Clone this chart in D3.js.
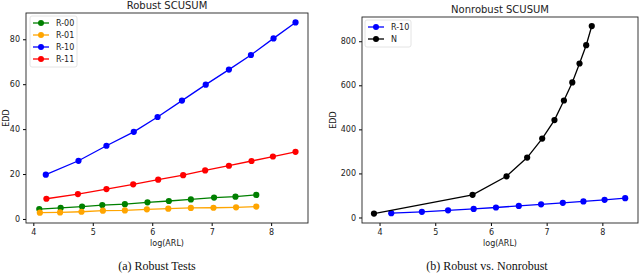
<!DOCTYPE html>
<html>
<head>
<meta charset="utf-8">
<script src="https://cdn.jsdelivr.net/npm/d3@7"></script>
<style>
  body { margin: 0; background: #fff; }
  svg { display: block; }
  .tick text { font-family: "DejaVu Sans", sans-serif; font-size: 8px; fill: #222; }
</style>
</head>
<body>
<script>
// log(ARL) values and EDD values
const xR00 = [4.10, 4.46, 4.82, 5.16, 5.54, 5.92, 6.28, 6.65, 7.04, 7.40, 7.75];
const yR00 = [4.4, 4.9, 5.5, 6.2, 6.6, 7.4, 8.0, 8.7, 9.5, 9.9, 10.7];
const xR01 = [4.11, 4.45, 4.81, 5.17, 5.54, 5.91, 6.27, 6.65, 7.03, 7.41, 7.75];
const yR01 = [2.8, 2.9, 3.2, 3.7, 3.8, 4.3, 4.6, 4.9, 5.0, 5.2, 5.5];
const xR10 = [4.21, 4.76, 5.23, 5.69, 6.09, 6.50, 6.90, 7.29, 7.66, 8.04, 8.41];
const yR10 = [19.7, 25.9, 32.6, 38.8, 45.4, 52.7, 59.8, 66.5, 73.0, 80.4, 87.5];
const xR11 = [4.22, 4.75, 5.23, 5.68, 6.10, 6.52, 6.89, 7.29, 7.67, 8.03, 8.41];
const yR11 = [9.0, 11.1, 13.3, 15.4, 17.5, 19.5, 21.6, 23.7, 25.8, 27.8, 29.9];
const xN = [3.90, 5.67, 6.28, 6.65, 6.92, 7.14, 7.31, 7.46, 7.59, 7.71, 7.81];
const yN = [18, 103, 187, 272, 358, 442, 531, 613, 699, 782, 869];

const xTicks = [4, 5, 6, 7, 8];
const yTicksA = [0, 20, 40, 60, 80];
const yTicksB = [0, 200, 400, 600, 800];

const zip = (xs, ys) => xs.map((x, i) => ({ x: x, y: ys[i] }));

const svg = d3.select("body").append("svg")
    .attr("width", 640)
    .attr("height", 274);

function drawPanel(cfg) {
    const x = d3.scaleLinear().domain(cfg.xDomain).range([cfg.left, cfg.right]);
    const y = d3.scaleLinear().domain(cfg.yDomain).range([cfg.bottom, cfg.top]);
    const g = svg.append("g");

    g.append("g")
        .attr("transform", `translate(0,${cfg.bottom})`)
        .call(d3.axisBottom(x).tickValues(xTicks).tickSize(3).tickPadding(3).tickFormat(d3.format("d")))
        .call(a => a.select(".domain").remove());
    g.append("g")
        .attr("transform", `translate(${cfg.left},0)`)
        .call(d3.axisLeft(y).tickValues(cfg.yTicks).tickSize(3).tickPadding(3).tickFormat(d3.format("d")))
        .call(a => a.select(".domain").remove());

    g.append("rect")
        .attr("x", cfg.left).attr("y", cfg.top)
        .attr("width", cfg.right - cfg.left).attr("height", cfg.bottom - cfg.top)
        .attr("fill", "none").attr("stroke", "#222").attr("stroke-width", 0.9);

    const line = d3.line().x(d => x(d.x)).y(d => y(d.y));
    cfg.series.forEach(s => {
        const pts = zip(s.xs, s.ys);
        g.append("path").datum(pts)
            .attr("d", line).attr("fill", "none")
            .attr("stroke", s.color).attr("stroke-width", 1.3);
        g.selectAll(null).data(pts).enter().append("circle")
            .attr("cx", d => x(d.x)).attr("cy", d => y(d.y))
            .attr("r", 3.1).attr("fill", s.color);
    });

    // legend
    const lg = g.append("g");
    lg.append("rect")
        .attr("x", cfg.legend.x).attr("y", cfg.legend.y)
        .attr("width", cfg.legend.w).attr("height", 12 * cfg.series.length + 3)
        .attr("rx", 2).attr("fill", "#fff").attr("stroke", "#ddd").attr("stroke-width", 0.8);
    cfg.series.forEach((s, i) => {
        const cy = cfg.legend.y + 7 + 12 * i;
        const lx = cfg.legend.x + 3;
        lg.append("line").attr("x1", lx).attr("x2", lx + 16).attr("y1", cy).attr("y2", cy)
            .attr("stroke", s.color).attr("stroke-width", 1.3);
        lg.append("circle").attr("cx", lx + 8).attr("cy", cy).attr("r", 3).attr("fill", s.color);
        lg.append("text").attr("x", lx + 23).attr("y", cy + 3)
            .attr("font-family", "DejaVu Sans, sans-serif").attr("font-size", 8).attr("fill", "#222")
            .text(s.name);
    });

    g.append("text")
        .attr("x", (cfg.left + cfg.right) / 2).attr("y", cfg.top - 4)
        .attr("text-anchor", "middle")
        .attr("font-family", "DejaVu Sans, sans-serif").attr("font-size", 10).attr("fill", "#222")
        .text(cfg.title);
    g.append("text")
        .attr("x", (cfg.left + cfg.right) / 2).attr("y", 246)
        .attr("text-anchor", "middle")
        .attr("font-family", "DejaVu Sans, sans-serif").attr("font-size", 8).attr("fill", "#222")
        .text("log(ARL)");
    g.append("text")
        .attr("transform", `translate(${cfg.yLabelX},${(cfg.top + cfg.bottom) / 2}) rotate(-90)`)
        .attr("text-anchor", "middle")
        .attr("font-family", "DejaVu Sans, sans-serif").attr("font-size", 8).attr("fill", "#222")
        .text("EDD");
    g.append("text")
        .attr("x", cfg.captionX).attr("y", 270)
        .attr("text-anchor", "middle")
        .attr("font-family", "Liberation Serif, Times New Roman, serif").attr("font-size", 12).attr("fill", "#111")
        .text(cfg.caption);
}

drawPanel({
    left: 26, right: 308, top: 13, bottom: 223,
    xDomain: [3.877, 8.62], yDomain: [-1.8, 91.7],
    yTicks: yTicksA,
    title: "Robust SCUSUM",
    caption: "(a) Robust Tests", captionX: 157,
    yLabelX: 9,
    legend: { x: 30, y: 16, w: 47 },
    series: [
        { name: "R-00", color: "green", xs: xR00, ys: yR00 },
        { name: "R-01", color: "orange", xs: xR01, ys: yR01 },
        { name: "R-10", color: "blue", xs: xR10, ys: yR10 },
        { name: "R-11", color: "red", xs: xR11, ys: yR11 }
    ]
});

drawPanel({
    left: 362, right: 638, top: 17, bottom: 223,
    xDomain: [3.685, 8.64], yDomain: [-25, 910],
    yTicks: yTicksB,
    title: "Nonrobust SCUSUM",
    caption: "(b) Robust vs. Nonrobust", captionX: 487,
    yLabelX: 336,
    legend: { x: 365, y: 20, w: 46 },
    series: [
        { name: "R-10", color: "blue", xs: xR10, ys: yR10 },
        { name: "N", color: "black", xs: xN, ys: yN }
    ]
});
</script>
</body>
</html>
